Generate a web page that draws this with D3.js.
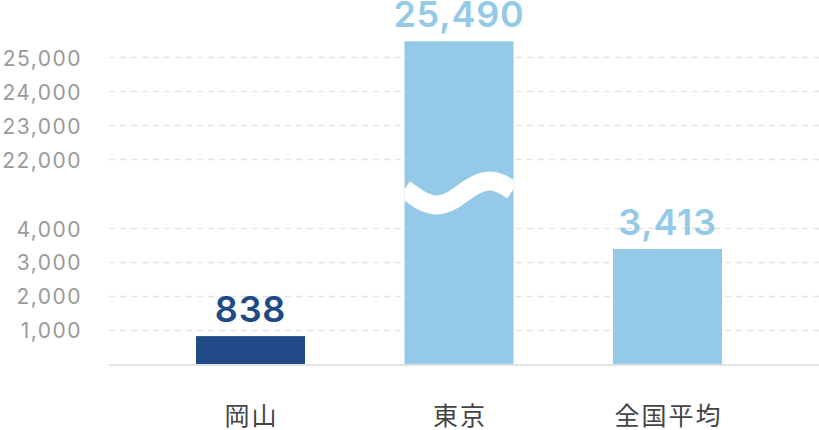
<!DOCTYPE html>
<html><head><meta charset="utf-8">
<script src="https://cdn.jsdelivr.net/npm/d3@7"></script>
<style>html,body{margin:0;padding:0;background:#fff;}</style>
</head><body>
<svg id="c" width="819" height="430"></svg>
<script>
const categories = ["岡山", "東京", "全国平均"];
const values = [838, 25490, 3413];
const valueLabels = ["838", "25,490", "3,413"];
const barColors = ["#1f4a86", "#95c9e8", "#95c9e8"];
const tickValues = [1000, 2000, 3000, 4000, 22000, 23000, 24000, 25000];
const tickLabels = ["1,000", "2,000", "3,000", "4,000", "22,000", "23,000", "24,000", "25,000"];
const breakLow = 4000, breakHigh = 22000;

const svg = d3.select("#c");
const y = d3.scaleLinear().domain([0, breakLow, breakHigh, 25000]).range([364.5, 229, 160, 58]);
const x = d3.scalePoint().domain(categories).range([250.5, 667.5]);
const barW = 109;

// gridlines
svg.append("g").selectAll("line").data(tickValues).join("line")
  .attr("x1", 109).attr("x2", 819)
  .attr("y1", d => Math.round(y(d)) - 0.5).attr("y2", d => Math.round(y(d)) - 0.5)
  .attr("stroke", "#e3e3e3").attr("stroke-width", 1.6).attr("stroke-dasharray", "6,5");

// tick labels
svg.append("g").selectAll("text").data(tickValues).join("text")
  .attr("x", 82).attr("y", d => y(d))
  .attr("dy", "0.36em").attr("text-anchor", "end")
  .attr("font-family", "Inter, 'Liberation Sans', sans-serif").attr("font-size", 21)
  .attr("letter-spacing", 1.5).attr("fill", "#9a9a9a")
  .text((d, i) => tickLabels[i]);

// bars
svg.append("g").selectAll("rect").data(values).join("rect")
  .attr("x", (d, i) => x(categories[i]) - barW / 2)
  .attr("width", barW)
  .attr("y", d => y(d))
  .attr("height", d => y(0) - y(d))
  .attr("fill", (d, i) => barColors[i]);

// break wave on bars spanning the gap
const waveLine = d3.line().curve(d3.curveBasis);
values.forEach((v, i) => {
  if (v <= breakHigh) return;
  const x0 = x(categories[i]) - barW / 2;
  const cy = (y(breakLow) + y(breakHigh)) / 2 - 1.5;
  const pts = d3.range(0, barW + 1, 4).map(dx => [x0 + dx, cy + 12 * Math.cos(2 * Math.PI * (dx - 32) / 106)]);
  svg.append("clipPath").attr("id", "clip" + i).append("rect")
    .attr("x", x0).attr("y", 0).attr("width", barW).attr("height", 430);
  svg.append("path").attr("d", waveLine(pts)).attr("fill", "none")
    .attr("stroke", "#fff").attr("stroke-width", 19)
    .attr("clip-path", "url(#clip" + i + ")");
});

// axis baseline
svg.append("line").attr("x1", 109).attr("x2", 819)
  .attr("y1", 365).attr("y2", 365).attr("stroke", "#e2e2e2").attr("stroke-width", 2);

// value labels
svg.append("g").selectAll("text").data(values).join("text")
  .attr("x", (d, i) => x(categories[i]))
  .attr("y", d => y(d) - 14)
  .attr("text-anchor", "middle")
  .attr("font-family", "Inter, 'Liberation Sans', sans-serif").attr("font-weight", 600)
  .attr("font-size", 36).attr("letter-spacing", 0.8)
  .attr("fill", (d, i) => barColors[i])
  .text((d, i) => valueLabels[i]);

// category labels
svg.append("g").selectAll("text").data(categories).join("text")
  .attr("x", d => x(d) + 1)
  .attr("y", 425)
  .attr("text-anchor", "middle")
  .attr("font-family", "'Noto Sans CJK JP', sans-serif").attr("font-size", 25)
  .attr("letter-spacing", 2)
  .attr("fill", "#444")
  .text(d => d);
</script>
</body></html>
